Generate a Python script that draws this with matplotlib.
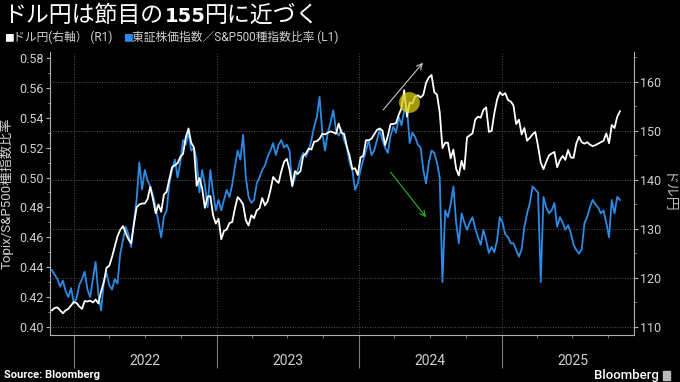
import numpy as np
import pandas as pd
import matplotlib
matplotlib.use('Agg')
import matplotlib.pyplot as plt
import matplotlib.dates as mdates
import matplotlib.ticker as mticker
from matplotlib.transforms import blended_transform_factory
from matplotlib.patches import Rectangle

# weekly closes (Fridays), Nov 2021 .. Oct 2025
usd_2021 = [113.4, 113.9, 114.0, 113.4, 112.8, 113.4, 113.7, 114.4, 115.1]
usd_2022 = [114.9, 114.2, 113.7, 115.3, 115.2, 115.4, 115.0, 115.6,
            114.8, 117.3, 119.2, 122.1, 122.5, 124.3, 126.4, 128.5, 129.8,
            130.6, 129.2, 127.9, 127.1, 130.9, 134.4, 135.0, 135.2,
            135.2, 136.1, 138.6, 136.1, 133.2, 135.0, 133.5, 137.0, 137.6,
            140.2, 142.6, 143.0, 143.4, 144.7, 145.3, 148.7, 150.5, 147.6,
            146.6, 138.8, 140.4, 138.3, 134.3, 136.6, 136.7, 132.8, 131.1]
usd_2023 = [132.1, 127.9, 129.6, 129.9, 131.2, 131.4, 134.2, 136.5,
            135.9, 135.0, 131.8, 130.7, 132.8, 132.2, 133.8, 134.2, 136.3,
            134.8, 135.7, 137.9, 140.6, 139.9, 139.4, 141.8, 143.7, 144.3,
            142.1, 138.8, 141.8, 141.2, 141.8, 144.9, 145.4, 146.4,
            146.2, 147.8, 147.9, 148.4, 149.4, 149.3, 149.6, 149.9, 149.7,
            149.4, 151.5, 149.6, 149.4, 146.8, 144.9, 142.2, 142.4, 141.0]
usd_2024 = [144.6, 144.9, 148.1, 148.1, 148.4, 149.3, 150.2, 150.5,
            150.1, 147.1, 149.0, 151.4, 151.4, 151.6, 153.3, 154.6, 158.3,
            152.9, 155.8, 155.6, 157.0, 157.3, 156.8, 157.4, 159.8, 160.9,
            161.4, 157.9, 157.4, 153.8, 146.5, 147.6, 147.6, 144.4, 146.2,
            142.3, 140.9, 143.9, 142.2, 148.7, 149.1, 149.5, 152.3,
            152.9, 152.7, 154.3, 154.8, 149.8, 150.0, 153.6, 156.4, 157.9]
usd_2025 = [157.3, 157.7, 156.3, 156.0, 155.2, 151.4, 152.3, 149.3, 150.6,
            148.0, 148.6, 149.3, 149.8, 146.9, 143.5, 142.2, 143.7,
            145.0, 145.4, 145.7, 142.6, 144.0, 144.9, 144.1, 146.1, 144.6,
            144.5, 147.4, 148.8, 147.7, 147.4, 147.7, 147.2, 146.9, 147.1,
            147.4, 147.7, 148.0, 149.5, 147.5, 151.2, 150.6, 152.9, 154.0]

ratio_2021 = [0.438, 0.435, 0.432, 0.427, 0.431, 0.424, 0.420, 0.426, 0.416]
ratio_2022 = [0.419, 0.428, 0.432, 0.437, 0.425, 0.420, 0.432, 0.4435,
              0.422, 0.411, 0.430, 0.436, 0.428, 0.425, 0.432, 0.429, 0.449,
              0.458, 0.467, 0.462, 0.4535, 0.470, 0.485, 0.510, 0.492,
              0.505, 0.498, 0.494, 0.488, 0.480, 0.470, 0.460, 0.474, 0.478,
              0.496, 0.505, 0.512, 0.500, 0.510, 0.525, 0.522, 0.530, 0.518,
              0.520, 0.512, 0.490, 0.505, 0.495, 0.480, 0.505, 0.490, 0.478]
ratio_2023 = [0.485, 0.478, 0.485, 0.4917, 0.487, 0.495, 0.507, 0.518,
              0.512, 0.5285, 0.500, 0.487, 0.483, 0.485, 0.496, 0.500, 0.505,
              0.508, 0.514, 0.518, 0.523, 0.515, 0.522, 0.525, 0.520, 0.522,
              0.518, 0.494, 0.500, 0.505, 0.512, 0.5165, 0.514, 0.518,
              0.525, 0.534, 0.5405, 0.554, 0.530, 0.518, 0.530, 0.5365, 0.545,
              0.532, 0.528, 0.532, 0.525, 0.520, 0.510, 0.505, 0.4917, 0.496]
ratio_2024 = [0.505, 0.512, 0.518, 0.525, 0.515, 0.518, 0.525, 0.532,
              0.525, 0.520, 0.5165, 0.528, 0.534, 0.530, 0.5405, 0.535, 0.545,
              0.547, 0.523, 0.530, 0.527, 0.522, 0.520, 0.505, 0.496, 0.510,
              0.518, 0.5165, 0.510, 0.500, 0.430, 0.478, 0.4735, 0.482, 0.494,
              0.470, 0.456, 0.476, 0.470, 0.465, 0.470, 0.4735, 0.466,
              0.460, 0.455, 0.465, 0.458, 0.4495, 0.4535, 0.450, 0.458, 0.4735]
ratio_2025 = [0.470, 0.462, 0.460, 0.456, 0.456, 0.4515, 0.447, 0.452, 0.467,
              0.476, 0.483, 0.494, 0.492, 0.490, 0.430, 0.487, 0.480,
              0.476, 0.478, 0.483, 0.467, 0.4735, 0.470, 0.465, 0.468, 0.463,
              0.455, 0.4515, 0.449, 0.452, 0.4695, 0.4735, 0.480, 0.485, 0.482,
              0.480, 0.476, 0.478, 0.4695, 0.460, 0.485, 0.476, 0.487, 0.485]

usdjpy = usd_2021 + usd_2022 + usd_2023 + usd_2024 + usd_2025
ratio = ratio_2021 + ratio_2022 + ratio_2023 + ratio_2024 + ratio_2025
dates = pd.date_range('2021-11-05', periods=len(usdjpy), freq='W-FRI')
years = [2022, 2023, 2024, 2025]

# annotations (date, yen) on the right axis
usd_arrow = (('2024-03-03', 154.3), ('2024-06-13', 163.9))
ratio_arrow = (('2024-03-22', 141.6), ('2024-06-21', 132.4))
highlight = ('2024-05-08', 155.9)

BLUE = '#2b8be6'
GREY = '#d0d0d0'
JP = ['Roboto', 'Noto Sans CJK JP', 'DejaVu Sans']

plt.rcParams['font.family'] = JP

fig = plt.figure(figsize=(6.8, 3.82), dpi=100, facecolor='black')
ax = fig.add_axes([50 / 680, 1 - 335 / 382, 584 / 680, 283 / 382])
ax.set_facecolor('black')
ax2 = ax.twinx()

ax.plot(dates, ratio, color=BLUE, lw=1.3)
ax2.plot(dates, usdjpy, color='white', lw=1.3)

ax.set_xlim(pd.Timestamp('2021-10-31'), pd.Timestamp('2025-12-06'))
ax.set_ylim(0.3946, 0.584)
ax2.set_ylim(108.37, 166.1)

ax.set_yticks(np.arange(0.40, 0.5801, 0.02))
ax.yaxis.set_major_formatter(mticker.FormatStrFormatter('%.2f'))
ax.yaxis.set_minor_locator(mticker.MultipleLocator(0.01))
ax2.set_yticks(np.arange(110, 161, 10))
ax2.yaxis.set_minor_locator(mticker.MultipleLocator(5))

ax.xaxis.set_major_locator(mdates.YearLocator())
ax.xaxis.set_minor_locator(mdates.MonthLocator(bymonth=[4, 7, 10]))
ax.xaxis.set_major_formatter(mticker.NullFormatter())

for a in (ax, ax2):
    a.spines['top'].set_visible(False)
    for s in ('left', 'right', 'bottom'):
        a.spines[s].set_color('#b0b0b0')
        a.spines[s].set_linewidth(0.8)
ax2.spines['left'].set_visible(False)
ax2.spines['bottom'].set_visible(False)
ax.spines['right'].set_visible(False)

ax.tick_params(axis='y', which='major', length=3, width=0.8, color='#b0b0b0',
               labelcolor=GREY, labelsize=9, pad=1.5)
ax.tick_params(axis='y', which='minor', length=1.5, width=0.6, color='#b0b0b0')
ax2.tick_params(axis='y', which='major', length=3, width=0.8, color='#b0b0b0',
                labelcolor=GREY, labelsize=9, pad=1.5)
ax2.tick_params(axis='y', which='minor', length=1.5, width=0.6, color='#b0b0b0')
ax.tick_params(axis='x', which='major', length=24, width=0.8, color='#808080')
ax.tick_params(axis='x', which='minor', length=2.5, width=0.6, color='#808080')

ax.grid(axis='x', which='major', linestyle=':', color='#555555', lw=0.7)
ax2.grid(axis='y', which='major', linestyle=':', color='#555555', lw=0.7)

ax.set_ylabel('Topix/S&P500種指数比率', color=GREY, fontsize=9.5, labelpad=4)
ax2.set_ylabel('ドル円', color='#b8b8b8', fontsize=10, rotation=270,
               va='bottom', labelpad=-1)

trans = blended_transform_factory(ax.transData, ax.transAxes)
for y in years:
    ax.text(mdates.date2num(pd.Timestamp(f'{y}-07-02')), -0.092, str(y),
            transform=trans, ha='center', va='center', color=GREY, fontsize=10)


def dnum(d):
    return mdates.date2num(pd.Timestamp(d))


for (s, e), c in ((usd_arrow, '#c8c8c8'), (ratio_arrow, '#2fb52f')):
    ax2.annotate('', xy=(dnum(e[0]), e[1]), xytext=(dnum(s[0]), s[1]),
                 arrowprops=dict(arrowstyle='->', color=c, lw=0.8,
                                 shrinkA=0, shrinkB=0))
ax2.plot(dnum(highlight[0]), highlight[1], 'o', ms=15, color='#d8cc10',
         alpha=0.75, mec='none', zorder=5)

# title with mixed weights
renderer = fig.canvas.get_renderer()
x = 3 / 680
for s, gap, kw in (('ドル円は節目の', 2, dict(fontsize=16.5, family=['Noto Sans CJK JP'])),
                   ('155', -1, dict(fontsize=14, weight='bold', family=['DejaVu Sans'])),
                   ('円に近づく', 0, dict(fontsize=16.5, family=['Noto Sans CJK JP']))):
    t = fig.text(x, 1 - 22 / 382, s, color='white', va='baseline', **kw)
    x = t.get_window_extent(renderer).x1 / fig.bbox.width + gap / 680

# legend row
leg_y = 1 - 41.5 / 382
fig.text(4 / 680, leg_y, '■', color='white', fontsize=7, va='baseline',
         family=['Noto Sans CJK JP'])
fig.text(13 / 680, leg_y, 'ドル円(右軸） (R1)', color=GREY, fontsize=8.5,
         va='baseline', family=JP)
fig.text(123 / 680, leg_y, '■', color=BLUE, fontsize=7, va='baseline',
         family=['Noto Sans CJK JP'])
fig.text(132 / 680, leg_y, '東証株価指数／S&P500種指数比率 (L1)', color=GREY,
         fontsize=8.5, va='baseline', family=JP)

# footer
fig.text(4 / 680, 1 - 375 / 382, 'Source: Bloomberg', color='white', fontsize=8,
         weight='bold', va='center')
fig.text(659 / 680, 1 - 375 / 382, 'Bloomberg', color='white', fontsize=9.5,
         weight='medium', va='center', ha='right')
fig.patches.append(Rectangle((663 / 680, 1 - 380 / 382), 7 / 680, 9 / 382,
                             transform=fig.transFigure, color='#b8b8b8'))

fig.savefig('out.png', dpi=100, facecolor='black')
